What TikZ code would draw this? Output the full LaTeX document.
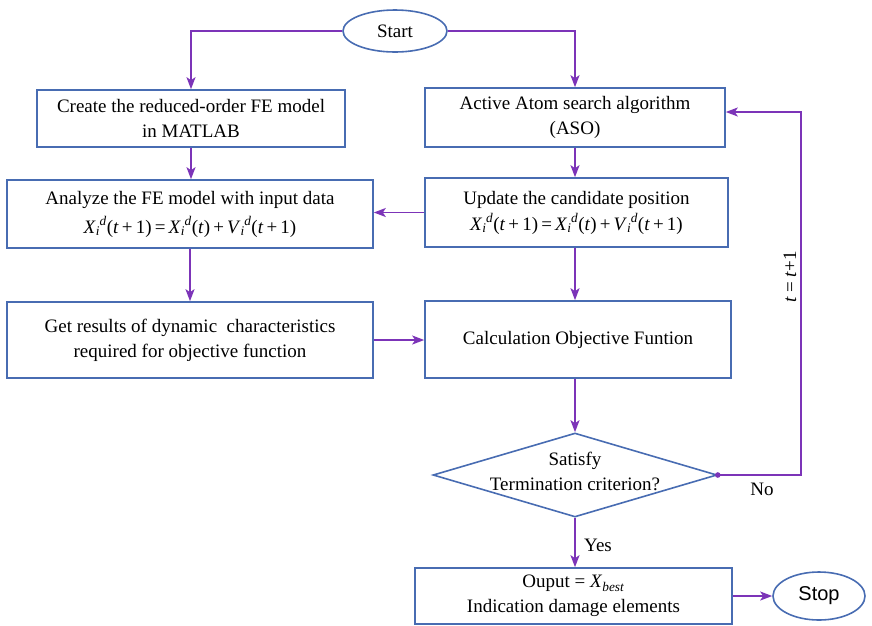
\documentclass[tikz,border=0pt]{standalone}
\usepackage{fontspec}
\setmainfont{Liberation Serif}
\newfontfamily\arialfont{Liberation Sans}
\usetikzlibrary{shapes.geometric,arrows.meta}
\definecolor{boxblue}{RGB}{72,108,178}
\definecolor{arrpurple}{RGB}{124,52,184}
\newcommand\vv[1]{\textit{#1}\textsubscript{\textit{i}}\kern-0.5pt\raisebox{1pt}{\textsuperscript{\textit{d}}}}
\begin{document}
\begin{tikzpicture}[x=1pt,y=-1pt,
  every node/.style={font=\fontsize{19}{25}\selectfont},
  box/.style={draw=boxblue,line width=1.6pt,rectangle,inner sep=0pt,align=center},
  oval/.style={draw=boxblue,line width=1.6pt,ellipse,inner sep=0pt},
  arr/.style={draw=arrpurple,line width=1.8pt,-{Stealth[length=12pt,width=9pt,inset=3pt]}}]
\useasboundingbox (0,0) rectangle (872,625);
\node[oval,minimum width=104pt,minimum height=42pt] (start) at (395,31) {Start};
\node[box,minimum width=308pt,minimum height=57pt] (b1) at (191,118.5) {Create the reduced-order FE model\\in MATLAB};
\node[box,minimum width=366pt,minimum height=68pt] (b2) at (190,214) {Analyze the FE model with input data\\[4pt]\vv{X}(\textit{t}\,+\,1)\,=\,\vv{X}(\textit{t})\,+\,\vv{V}(\textit{t}\,+\,1)};
\node[box,minimum width=366pt,minimum height=76pt] (b3) at (190,340) {Get results of dynamic\ \ characteristics\\required for objective function};
\node[box,minimum width=300pt,minimum height=59pt] (r1) at (575,117.5) {Active Atom search algorithm\\(ASO)};
\node[box,minimum width=303pt,minimum height=69pt] (r2) at (576.5,212.5) {Update the candidate position\\[1pt]\vv{X}(\textit{t}\,+\,1)\,=\,\vv{X}(\textit{t})\,+\,\vv{V}(\textit{t}\,+\,1)};
\node[box,minimum width=306pt,minimum height=77pt] (r3) at (578,339.5) {Calculation Objective Funtion};
\node[diamond,draw=boxblue,line width=1.6pt,inner sep=0pt,minimum width=284pt,minimum height=84pt] (dia) at (575,475) {};
\node[align=center] (diatext) at (575,471) {Satisfy\\Termination criterion?};
\node[box,minimum width=317pt,minimum height=56pt] (out) at (573.5,596) {Ouput = \textit{X}\textsubscript{\textit{best}}\\Indication damage elements};
\node[oval,minimum width=92pt,minimum height=48pt,font=\arialfont\fontsize{20}{22}\selectfont] (stop) at (819,596) {Stop};
\coordinate (loop) at (801,112);
\draw[arr] (start.west) -| (b1.north);
\draw[arr] (start.east) -| (r1.north);
\draw[arr] (b1.south) -- (b1.south |- b2.north);
\draw[arr] (r1.south) -- (r1.south |- r2.north);
\draw[arr] (r2.west) -- (r2.west -| b2.east);
\draw[arr] (b2.south) -- (b2.south |- b3.north);
\draw[arr] (r1.south |- r2.south) -- (r1.south |- r3.north);
\draw[arr] (b3.east) -- (b3.east -| r3.west);
\draw[arr] (r1.south |- r3.south) -- (dia.north);
\draw[arr] (dia.east) -| (loop) -- (loop -| r1.east);
\fill[arrpurple] (dia.east) circle (2.8pt);
\draw[arr] (dia.south) -- (dia.south |- out.north);
\draw[arr] (out.east) -- (stop.west);
\node[rotate=90] (tlab) at (790,277) {\textit{t} = \textit{t}+1};
\node (nolab) at (762,489) {No};
\node (yeslab) at (598,545) {Yes};
\end{tikzpicture}
\end{document}
